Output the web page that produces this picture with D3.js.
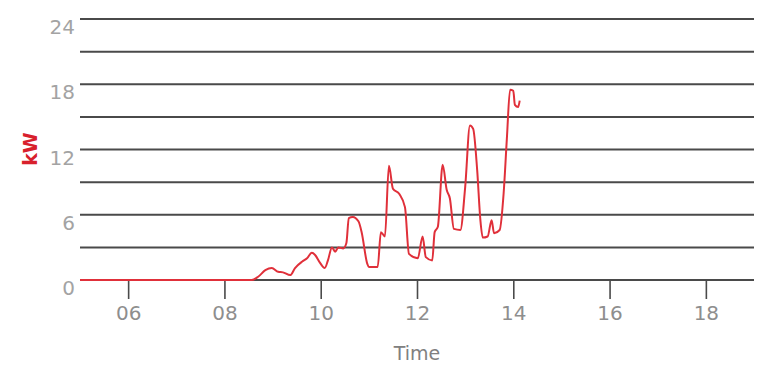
<!DOCTYPE html>
<html>
<head>
<meta charset="utf-8">
<script src="https://cdn.jsdelivr.net/npm/d3@7"></script>
<style>
  html, body { margin: 0; padding: 0; background: #fff; }
  svg { display: block; }
  text { font-family: "DejaVu Sans", sans-serif; }
</style>
</head>
<body>
<svg id="chart" width="766" height="370"></svg>
<script>
// ---- data ----
const times = ["05:00","08:34","08:42","08:51","08:59","09:07","09:13","09:22","09:28","09:37","09:43","09:49","09:53","09:59",
  "10:05","10:09","10:14","10:18","10:22","10:28","10:32","10:35","10:40","10:47","10:51","10:58","11:00","11:11","11:15",
  "11:20","11:25","11:30","11:38","11:45","11:50","12:01","12:07","12:11","12:19","12:22","12:26","12:32","12:37","12:41",
  "12:46","12:54","13:00","13:06","13:10","13:15","13:19","13:22","13:28","13:33","13:36","13:43","13:48","13:52","13:56",
  "14:00","14:02","14:06","14:08"];
const kw = [0,0,0.3,0.9,1.1,0.75,0.7,0.45,1.1,1.7,2.0,2.5,2.3,1.6,
  1.1,1.8,3.0,2.6,3.0,2.9,3.4,5.7,5.8,5.4,4.4,1.5,1.2,1.2,4.4,
  4.0,10.5,8.4,7.9,6.7,2.4,2.0,4.0,2.1,1.8,4.4,4.9,10.6,8.3,7.5,
  4.7,4.6,8.5,14.2,13.9,10.1,5.5,3.9,4.0,5.5,4.3,4.6,8.0,13.0,17.5,
  17.4,16.1,15.9,16.5];
const yTickLabels = [0, 6, 12, 18, 24];
const gridValues = [0, 3, 6, 9, 12, 15, 18, 21, 24];
const xTickLabels = ["06","08","10","12","14","16","18"];
const xDomain = ["05:00", "19:00"];
const yLabel = "kW";
const xLabel = "Time";

// ---- layout ----
const svg = d3.select("#chart");
const mLeft = 80, mRight = 754, mTop = 19, mBottom = 280;
const parse = d3.timeParse("%H:%M");
const data = times.map((t, i) => ({ t: parse(t), v: kw[i] }));

const x = d3.scaleTime().domain(xDomain.map(parse)).range([mLeft, mRight]);
const y = d3.scaleLinear().domain([0, 24]).range([mBottom, mTop]);

// gridlines
svg.append("g").selectAll("line").data(gridValues).join("line")
  .attr("x1", mLeft).attr("x2", mRight)
  .attr("y1", d => y(d)).attr("y2", d => y(d))
  .attr("stroke", "#4a4a4a").attr("stroke-width", 2);

// y labels (top-aligned below their gridline)
svg.append("g").selectAll("text").data(yTickLabels).join("text")
  .attr("x", 75).attr("y", d => y(d) + 15)
  .attr("text-anchor", "end")
  .attr("fill", "#a3a3a3")
  .attr("font-size", 20)
  .text(d => d);

// x axis
const xTicks = xTickLabels.map(s => parse(s + ":00"));
const xAxis = d3.axisBottom(x).tickValues(xTicks).tickFormat(d3.timeFormat("%H")).tickSize(19).tickPadding(7);
const gx = svg.append("g").attr("transform", `translate(0,${mBottom})`).call(xAxis);
gx.select(".domain").remove();
gx.selectAll(".tick line").attr("stroke", "#4a4a4a").attr("stroke-width", 1.6);
gx.selectAll(".tick text").attr("fill", "#8e8e8e").attr("font-size", 20)
  .attr("font-family", "'DejaVu Sans', sans-serif");

// line
const line = d3.line().x(d => x(d.t)).y(d => y(d.v)).curve(d3.curveMonotoneX);
svg.append("path").datum(data)
  .attr("d", line)
  .attr("fill", "none")
  .attr("stroke", "#e0303a")
  .attr("stroke-width", 2)
  .attr("stroke-linejoin", "round");

// axis titles
svg.append("text")
  .attr("transform", `translate(37,149) rotate(-90)`)
  .attr("text-anchor", "middle")
  .attr("fill", "#d8202c")
  .attr("font-size", 19)
  .attr("font-weight", "bold")
  .text(yLabel);

svg.append("text")
  .attr("x", 417).attr("y", 360)
  .attr("text-anchor", "middle")
  .attr("fill", "#808080")
  .attr("font-size", 19)
  .text(xLabel);
</script>
</body>
</html>
